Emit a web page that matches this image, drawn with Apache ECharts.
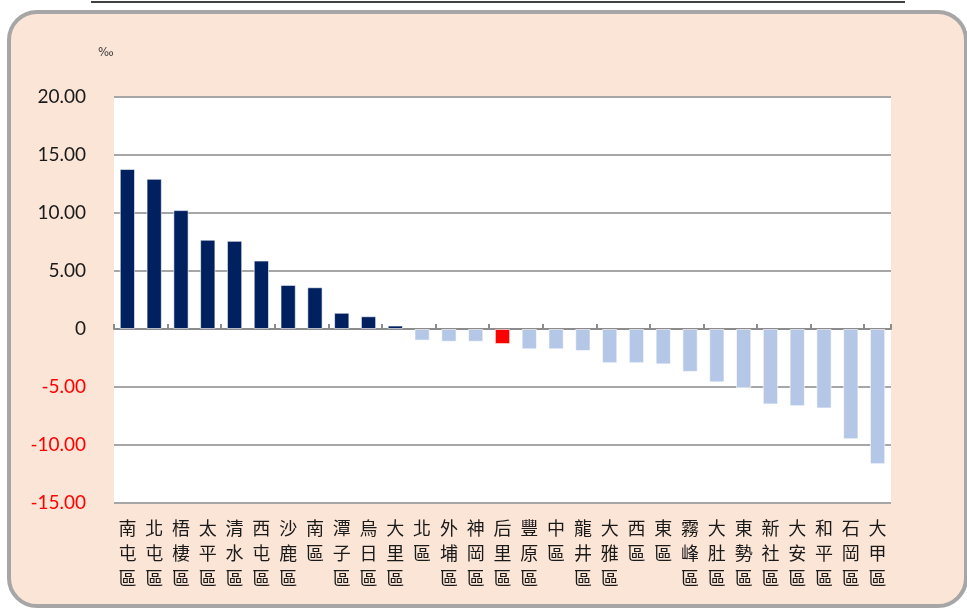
<!DOCTYPE html>
<html>
<head>
<meta charset="utf-8">
<script src="https://cdn.jsdelivr.net/npm/echarts@6/dist/echarts.min.js"></script>
<style>
  html, body { margin: 0; padding: 0; background: #ffffff; }
  #main { width: 967px; height: 608px; }
</style>
</head>
<body>
<div id="main"></div>
<script>
// 各區數值 (‰)
var districts = ['南屯區', '北屯區', '梧棲區', '太平區', '清水區', '西屯區', '沙鹿區', '南區', '潭子區', '烏日區',
  '大里區', '北區', '外埔區', '神岡區', '后里區', '豐原區', '中區', '龍井區', '大雅區', '西區',
  '東區', '霧峰區', '大肚區', '東勢區', '新社區', '大安區', '和平區', '石岡區', '大甲區'];
var values = [13.8, 12.95, 10.25, 7.7, 7.6, 5.9, 3.8, 3.6, 1.4, 1.1,
  0.3, -1.0, -1.1, -1.1, -1.3, -1.75, -1.75, -1.9, -2.95, -2.95,
  -3.05, -3.7, -4.6, -5.1, -6.5, -6.65, -6.85, -9.5, -11.65];
var highlight = '后里區';
var yTicks = { min: -15, max: 20, step: 5 };

var bars = values.map(function (v, i) {
  var c = v >= 0 ? '#002060' : '#B4C7E7';
  if (districts[i] === highlight) c = '#FF0000';
  return { value: v, itemStyle: { color: c } };
});

var chart = echarts.init(document.getElementById('main'));
chart.setOption({
  backgroundColor: 'transparent',
  animation: false,
  graphic: [
    { type: 'line', shape: { x1: 91, y1: 2, x2: 905, y2: 2 }, style: { stroke: '#404040', lineWidth: 2 }, z: -1 },
    { type: 'rect', shape: { x: 9, y: 12, width: 957, height: 594, r: 28 },
      style: { fill: '#FBE5D6', stroke: '#A6A6A6', lineWidth: 4 }, z: -10 },
    { type: 'rect', shape: { x: 114, y: 97, width: 777, height: 406 }, style: { fill: '#ffffff' }, z: -5 },
    { type: 'text', left: 98, top: 46, style: { text: '‰', fontSize: 13, fill: '#404040', fontFamily: 'DejaVu Sans Condensed' } }
  ],
  grid: { left: 114, right: 76, top: 97, bottom: 105 },
  xAxis: [
    {
      type: 'category', data: districts,
      axisLine: { onZero: true, lineStyle: { color: '#8C8C8C', width: 2 } },
      axisTick: { show: true, inside: true, length: 5, lineStyle: { color: '#8C8C8C', width: 2 } },
      axisLabel: { show: false },
      splitLine: { show: false }
    },
    {
      type: 'category', data: districts, position: 'bottom',
      axisLine: { show: false, onZero: false },
      axisTick: { show: false },
      axisLabel: {
        show: true, interval: 0, margin: 13,
        fontSize: 18, lineHeight: 25, color: '#1a1a1a',
        fontFamily: 'Noto Sans CJK TC',
        verticalAlign: 'top',
        formatter: function (s) { return s.split('').join('\n'); }
      }
    }
  ],
  yAxis: {
    type: 'value', min: yTicks.min, max: yTicks.max, interval: yTicks.step,
    axisLine: { show: false },
    axisTick: { show: false },
    splitLine: { lineStyle: { color: '#A6A6A6', width: 2 } },
    axisLabel: {
      margin: 28, fontSize: 19, fontFamily: 'Lato',
      formatter: function (v) { return v === 0 ? '0' : v.toFixed(2); },
      color: function (v) { return Number(v) < 0 ? '#FF0000' : '#1a1a1a'; }
    }
  },
  series: [{
    type: 'bar', xAxisIndex: 0, data: bars,
    barCategoryGap: '43%',
    itemStyle: { borderColor: 'rgba(255,255,255,0.6)', borderWidth: 1 }
  }]
});
</script>
</body>
</html>
